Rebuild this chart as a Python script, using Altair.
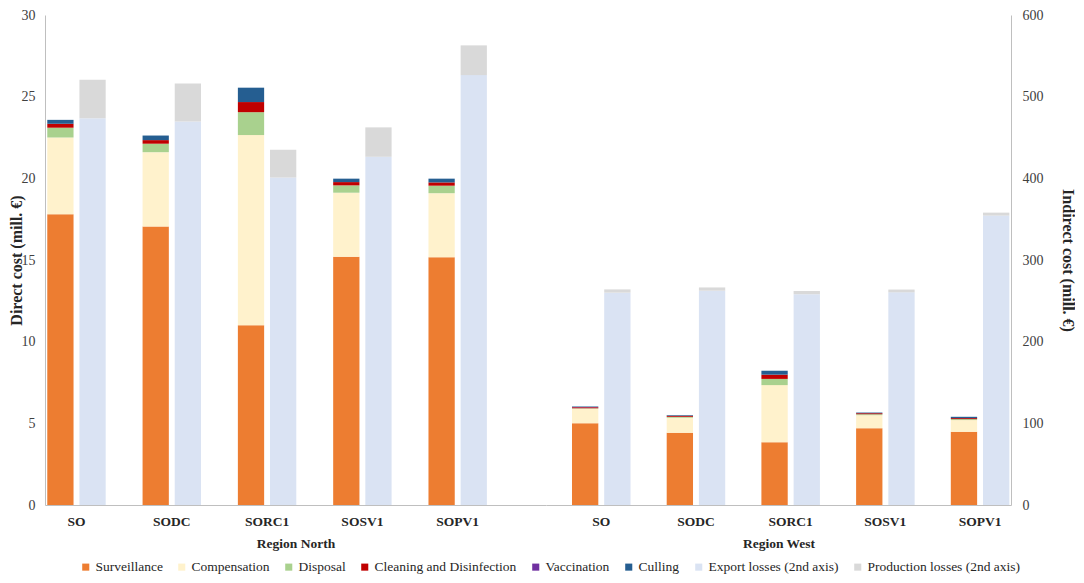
import altair as alt
import pandas as pd

FONT = "Liberation Serif, Times New Roman, Times, DejaVu Serif, serif"

scenarios = ["SO", "SODC", "SORC1", "SOSV1", "SOPV1"]
regions = ["Region North", "Region West"]
components = ["Surveillance", "Compensation", "Disposal", "Cleaning and Disinfection",
              "Vaccination", "Culling", "Export losses (2nd axis)", "Production losses (2nd axis)"]
colors = ["#ED7D31", "#FFF2CC", "#A9D18E", "#C00000", "#7030A0", "#255E91", "#DAE3F3", "#D9D9D9"]

# Direct costs (mill. EUR), one value per scenario
north_surveillance = [17.80, 17.05, 11.00, 15.20, 15.17]
north_compensation = [4.70, 4.55, 11.65, 3.92, 3.92]
north_disposal = [0.60, 0.52, 1.40, 0.45, 0.46]
north_cleaning = [0.24, 0.22, 0.62, 0.20, 0.20]
north_vaccination = [0.00, 0.00, 0.00, 0.00, 0.00]
north_culling = [0.24, 0.28, 0.88, 0.21, 0.23]
# Indirect costs (mill. EUR, 2nd axis)
north_export = [473.6, 469.6, 401.0, 426.4, 526.4]
north_production = [47.2, 46.4, 34.0, 36.0, 36.4]

west_surveillance = [5.00, 4.42, 3.84, 4.70, 4.48]
west_compensation = [0.90, 0.92, 3.50, 0.80, 0.72]
west_disposal = [0.03, 0.06, 0.38, 0.06, 0.06]
west_cleaning = [0.05, 0.06, 0.26, 0.06, 0.06]
west_vaccination = [0.02, 0.00, 0.00, 0.00, 0.00]
west_culling = [0.03, 0.04, 0.24, 0.04, 0.08]
west_export = [260.0, 262.4, 258.0, 260.4, 354.4]
west_production = [4.0, 4.0, 4.0, 3.4, 3.6]

direct_series = {
    "Region North": [north_surveillance, north_compensation, north_disposal,
                     north_cleaning, north_vaccination, north_culling],
    "Region West": [west_surveillance, west_compensation, west_disposal,
                    west_cleaning, west_vaccination, west_culling],
}
indirect_series = {
    "Region North": [north_export, north_production],
    "Region West": [west_export, west_production],
}

rows = []
for region in regions:
    for k, vals in enumerate(direct_series[region]):
        for s, v in zip(scenarios, vals):
            rows.append({"region": region, "scenario": s, "component": components[k],
                         "value": v, "kind": "Direct", "order": k})
    for k, vals in enumerate(indirect_series[region]):
        for s, v in zip(scenarios, vals):
            rows.append({"region": region, "scenario": s, "component": components[6 + k],
                         "value": v, "kind": "Indirect", "order": 6 + k})
df = pd.DataFrame(rows)

legend = alt.Legend(orient="none", legendX=34, legendY=545, direction="horizontal",
                    title=None, symbolType="square", symbolSize=50, symbolStrokeWidth=0,
                    labelFont=FONT, labelFontSize=13.5, labelColor="#262626",
                    columnPadding=12, labelOffset=3, padding=0)


def panel(region, width, p_inner, p_outer, align, side):
    sub = df[df.region == region]
    x = alt.X("scenario:N", sort=scenarios,
              scale=alt.Scale(domain=scenarios, paddingInner=p_inner,
                              paddingOuter=p_outer, align=align),
              axis=alt.Axis(title=region, labelAngle=0, ticks=False, domainColor="#BFBFBF",
                            labelFontWeight="bold", labelFontSize=13.5, labelPadding=9,
                            labelColor="#262626", titleFontSize=13.5, titleFontWeight="bold",
                            titlePadding=9, titleColor="#262626"))
    xo = alt.XOffset("kind:N", scale=alt.Scale(domain=["Direct", "Indirect"],
                                               paddingInner=0.183, paddingOuter=0))
    color = alt.Color("component:N", scale=alt.Scale(domain=components, range=colors),
                      legend=legend)
    order = alt.Order("order:Q", sort="ascending")
    left_axis = alt.Axis(title="Direct cost (mill. €)", values=[0, 5, 10, 15, 20, 25, 30],
                         ticks=False, domainColor="#BFBFBF", labelFontSize=14,
                         labelColor="#404040", labelPadding=10, titleFontSize=16,
                         titleFontWeight="bold", titleColor="#262626", titlePadding=-3)
    right_axis = alt.Axis(title="Indirect cost (mill. €)", orient="right",
                          values=[0, 100, 200, 300, 400, 500, 600],
                          ticks=False, domainColor="#BFBFBF", labelFontSize=14,
                          labelColor="#404040", labelPadding=11, titleFontSize=16,
                          titleFontWeight="bold", titleColor="#262626", titlePadding=16)
    direct = alt.Chart(sub[sub.kind == "Direct"]).mark_bar().encode(
        x=x, xOffset=xo,
        y=alt.Y("value:Q", stack="zero", scale=alt.Scale(domain=[0, 30], nice=False),
                axis=left_axis if side == "left" else None),
        color=color, order=order)
    indirect = alt.Chart(sub[sub.kind == "Indirect"]).mark_bar().encode(
        x=x, xOffset=xo,
        y=alt.Y("value:Q", stack="zero", scale=alt.Scale(domain=[0, 600], nice=False),
                axis=right_axis if side == "right" else None),
        color=color, order=order)
    return alt.layer(direct, indirect).resolve_scale(y="independent").properties(
        width=width, height=490)


north = panel("Region North", 501, 0.387, 0.322, 0.037, "left")
west = panel("Region West", 465, 0.382, 0.146, 0.94, "right")

chart = alt.hconcat(north, west, spacing=0).resolve_scale(
    x="independent", xOffset="independent"
).properties(
    padding={"left": 0, "top": 0, "right": 0, "bottom": 0}
).configure(font=FONT).configure_view(stroke=None).configure_axis(
    grid=False, labelFont=FONT, titleFont=FONT
)

chart.save("out.html", embed_options={"renderer": "svg", "actions": False})
